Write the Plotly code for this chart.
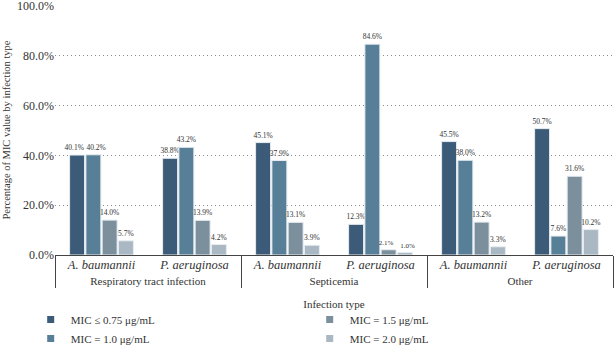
import plotly.graph_objects as go

groups = ["Respiratory tract infection", "Respiratory tract infection",
          "Septicemia", "Septicemia", "Other", "Other"]
species_names = ["A. baumannii", "P. aeruginosa"] * 3
species = [f"<i><span style='font-size:12.5px'>{s}</span></i>" for s in species_names]

mic_075 = [40.1, 38.8, 45.1, 12.3, 45.5, 50.7]
mic_10 = [40.2, 43.2, 37.9, 84.6, 38.0, 7.6]
mic_15 = [14.0, 13.9, 13.1, 2.1, 13.2, 31.6]
mic_20 = [5.7, 4.2, 3.9, 1.0, 3.3, 10.2]

series = [
    ("MIC ≤ 0.75 μg/mL", mic_075, "#3b5b78", 1),
    ("MIC = 1.0 μg/mL", mic_10, "#587f98", 3),
    ("MIC = 1.5 μg/mL", mic_15, "#7b8f9d", 2),
    ("MIC = 2.0 μg/mL", mic_20, "#a9b8c3", 4),
]

FONT = "Liberation Serif"
NB = "\u00a0"

# pad labels of neighbouring bars with nearly equal heights so they sit apart
all_vals = [s[1] for s in series]
labels = [[f"{v:.1f}%" for v in vals] for vals in all_vals]
sizes = [[7.5 for v in vals] for vals in all_vals]
for k in range(len(all_vals) - 1):
    for i in range(len(groups)):
        if abs(all_vals[k][i] - all_vals[k + 1][i]) < 3:
            labels[k][i] = labels[k][i] + NB * 3
            labels[k + 1][i] = NB * 3 + labels[k + 1][i]
            if max(all_vals[k][i], all_vals[k + 1][i]) < 5:
                sizes[k][i] = 7
                sizes[k + 1][i] = 7

fig = go.Figure()
for (name, vals, color, rank), lab, sz in zip(series, labels, sizes):
    fig.add_trace(go.Bar(
        x=[groups, species], y=vals, name=name, showlegend=False,
        marker=dict(color=color, line=dict(color="#e6ecf0", width=1)),
        text=lab, textposition="outside",
        constraintext="none",
        textfont=dict(family=FONT, size=sz, color="#333"),
        cliponaxis=False,
    ))
for name, vals, color, rank in series:
    fig.add_trace(go.Scatter(
        x=[[groups[0]], [species[0]]], y=[None], name=name, mode="markers",
        marker=dict(symbol="square", size=7, color=color),
        legendrank=rank, showlegend=True,
    ))

fig.update_layout(
    width=614, height=346,
    margin=dict(l=55, r=1, t=5, b=91, autoexpand=False),
    paper_bgcolor="white", plot_bgcolor="white",
    barmode="group", bargap=0.3, bargroupgap=0.08,
    font=dict(family=FONT, size=11, color="#333"),
    showlegend=True,
    legend=dict(orientation="h", xref="container", yref="container",
                x=0.05, xanchor="left", y=1 - 305 / 346, yanchor="top",
                entrywidth=234, entrywidthmode="pixels", tracegroupgap=0,
                font=dict(family=FONT, size=11, color="#333"),
                itemwidth=30),
)
fig.update_yaxes(
    range=[0, 100.3], tickvals=[0, 20, 40, 60, 80, 100],
    ticktext=["0.0%", "20.0%", "40.0%", "60.0%", "80.0%", "100.0%"],
    ticklabeloverflow="allow",
    showgrid=True, gridcolor="#8a8a8a", griddash="1px,3px", gridwidth=1,
    zeroline=False, showline=False,
    tickfont=dict(family=FONT, size=12, color="#333"),
    title=dict(text="Percentage of MIC value by infection type",
               font=dict(family=FONT, size=10.5, color="#333"), standoff=4),
)
fig.update_xaxes(
    type="multicategory", showline=True, linecolor="#444", linewidth=1,
    showdividers=True, dividercolor="#444", dividerwidth=1,
    tickfont=dict(family=FONT, size=11, color="#333"),
    title=dict(text="Infection type", font=dict(family=FONT, size=11, color="#333"),
               standoff=14),
)

fig.write_html("out.html")
